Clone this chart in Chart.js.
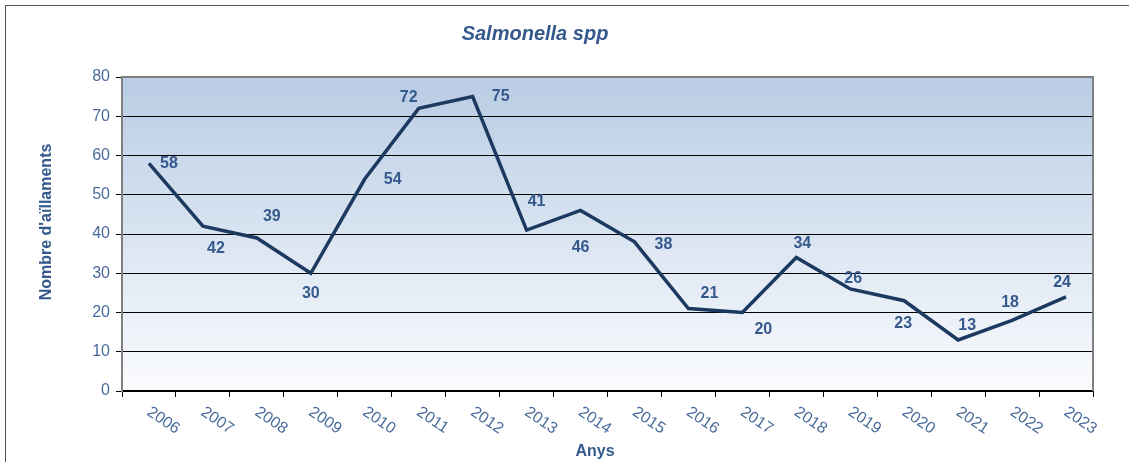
<!DOCTYPE html>
<html lang="ca">

<head>
  <meta charset="UTF-8" />
  <title>Salmonella spp</title>
  <script src="https://cdn.jsdelivr.net/npm/chart.js"></script>
  <style>
    html, body { margin: 0; padding: 0; background: #ffffff; }
    #wrap { width: 1129px; height: 462px; position: relative; }
  </style>
</head>

<body>
  <div id="wrap">
    <canvas id="grafic" width="1129" height="462"></canvas>
  </div>

  <script>
    // Dades llegides del gràfic
    const anys = ['2006', '2007', '2008', '2009', '2010', '2011', '2012', '2013', '2014',
      '2015', '2016', '2017', '2018', '2019', '2020', '2021', '2022', '2023'];
    const aillaments = [58, 42, 39, 30, 54, 72, 75, 41, 46, 38, 21, 20, 34, 26, 23, 13, 18, 24];
    const ticksY = [0, 10, 20, 30, 40, 50, 60, 70, 80];

    // desplaçament de cada etiqueta respecte al punt (px)
    const posEtiquetes = [[20, 0], [13, 22], [15, -21], [0, 20], [28, 1], [-10, -11], [28, 0], [10, -28], [0, 37],
      [29, 3], [21, -15], [21, 17], [6, -14], [3, -10], [-1, 23], [9, -14], [-2, -18], [-4, -14]];

    const FONT = '"Liberation Sans", Arial, sans-serif';
    const blauText = '#4a6c9c';
    const blauFosc = '#35598c';

    // Fons degradat, marcs, títols i etiquetes
    const decoracio = {
      id: 'decoracio',
      beforeDraw(chart) {
        const { ctx, chartArea: a } = chart;
        const g = ctx.createLinearGradient(0, a.top, 0, a.bottom);
        g.addColorStop(0, '#b8cce4');
        g.addColorStop(1, '#fbfcfe');
        ctx.save();
        ctx.fillStyle = g;
        ctx.fillRect(a.left, a.top, a.right - a.left, a.bottom - a.top);
        ctx.restore();
      },
      afterDraw(chart) {
        const { ctx, chartArea: a, scales } = chart;
        ctx.save();
        // marc exterior
        ctx.strokeStyle = '#555555';
        ctx.lineWidth = 1;
        ctx.strokeRect(5.5, 5.5, 1140, 470);
        // marc de l'àrea
        ctx.strokeStyle = '#808080';
        ctx.lineWidth = 2;
        ctx.beginPath();
        ctx.moveTo(a.left, a.bottom);
        ctx.lineTo(a.left, a.top);
        ctx.lineTo(a.right, a.top);
        ctx.lineTo(a.right, a.bottom);
        ctx.stroke();

        // títol
        ctx.fillStyle = blauFosc;
        ctx.textAlign = 'center';
        ctx.textBaseline = 'middle';
        ctx.font = 'italic bold 20px ' + FONT;
        ctx.fillText('Salmonella spp', 535, 34);

        // títols dels eixos
        ctx.font = 'bold 16px ' + FONT;
        ctx.fillText('Anys', 595, 452);
        ctx.save();
        ctx.translate(47, 222);
        ctx.rotate(-Math.PI / 2);
        ctx.fillText("Nombre d'aïllaments", 0, 0);
        ctx.restore();

        // anys girats
        ctx.fillStyle = blauText;
        ctx.font = '16px ' + FONT;
        ctx.textAlign = 'left';
        ctx.textBaseline = 'top';
        anys.forEach((any, i) => {
          const x = scales.x.getPixelForValue(i);
          ctx.save();
          ctx.translate(x + 4, a.bottom + 13);
          ctx.rotate(34 * Math.PI / 180);
          ctx.fillText(any, 0, 0);
          ctx.restore();
        });

        // valors
        const meta = chart.getDatasetMeta(0);
        ctx.fillStyle = blauFosc;
        ctx.font = 'bold 16px ' + FONT;
        ctx.textAlign = 'center';
        ctx.textBaseline = 'middle';
        meta.data.forEach((p, i) => {
          const [dx, dy] = posEtiquetes[i];
          ctx.fillText(aillaments[i], p.x + dx, p.y + dy);
        });
        ctx.restore();
      }
    };

    new Chart(document.getElementById('grafic'), {
      type: 'line',
      data: {
        labels: anys,
        datasets: [{
          data: aillaments,
          borderColor: '#1c3a60',
          borderWidth: 3.5,
          pointRadius: 0,
          tension: 0
        }]
      },
      options: {
        responsive: false,
        animation: false,
        layout: { padding: { top: 77, right: 36, bottom: 0, left: 10 } },
        plugins: {
          legend: { display: false },
          tooltip: { enabled: false },
          title: { display: false }
        },
        scales: {
          x: {
            offset: true,
            grid: { offset: true, drawOnChartArea: false, drawTicks: true, tickLength: 6, color: '#000000' },
            border: { display: true, color: '#000000', width: 1.5 },
            ticks: { display: false },
            afterFit(scale) { scale.height = 71; }
          },
          y: {
            min: 0,
            max: 80,
            afterBuildTicks(scale) { scale.ticks = ticksY.map(v => ({ value: v })); },
            grid: { color: '#000000', lineWidth: 1, tickLength: 6, drawTicks: true },
            border: { display: true, color: '#808080', width: 2 },
            ticks: {
              color: blauText,
              font: { family: FONT, size: 16 },
              padding: 6
            },
            afterFit(scale) { scale.width = 112; }
          }
        }
      },
      plugins: [decoracio]
    });
  </script>

</body>

</html>
